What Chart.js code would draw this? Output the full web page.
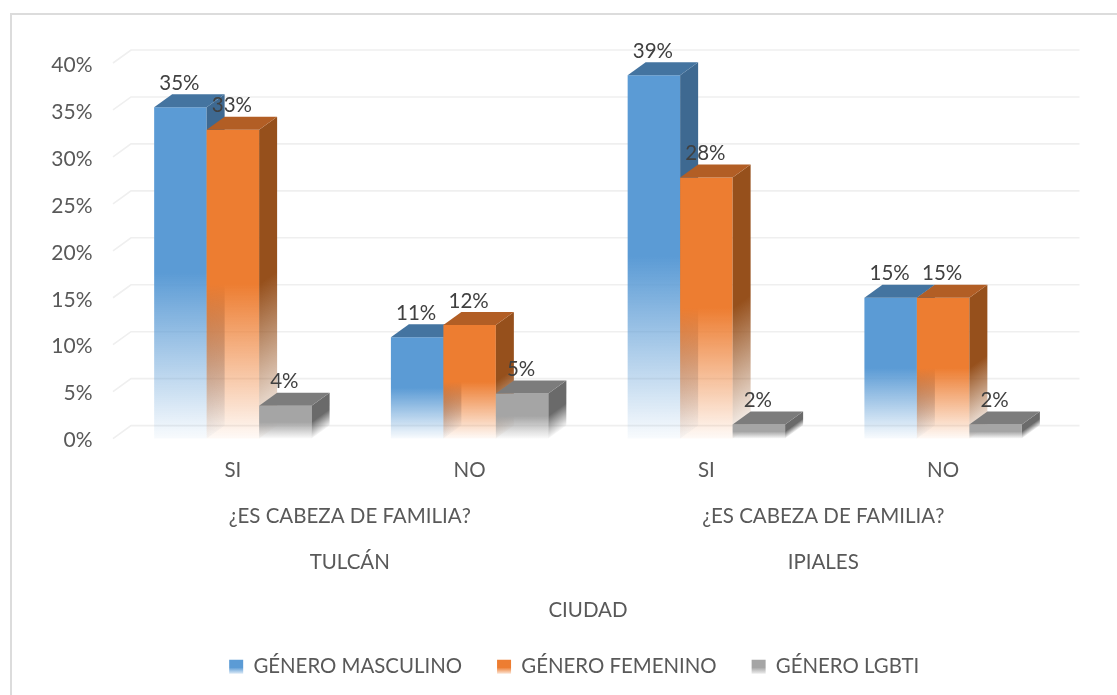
<!DOCTYPE html>
<html>
<head>
<meta charset="utf-8">
<style>html,body{margin:0;padding:0;background:#fff}#w{width:1117px;height:695px;position:relative}</style>
<script src="https://cdn.jsdelivr.net/npm/chart.js@4"></script>
</head>
<body>
<div id="w"><canvas id="c" width="1117" height="695"></canvas></div>
<script>
const categories = ['SI', 'NO', 'SI', 'NO'];
const questionLabels = ['¿ES CABEZA DE FAMILIA?', '¿ES CABEZA DE FAMILIA?'];
const cityLabels = ['TULCÁN', 'IPIALES'];
const axisTitle = 'CIUDAD';
const seriesNames = ['GÉNERO MASCULINO', 'GÉNERO FEMENINO', 'GÉNERO LGBTI'];
const masculino = [35.3, 10.8, 38.7, 15];
const femenino = [32.9, 12.1, 27.8, 15];
const lgbti = [3.5, 4.8, 1.5, 1.5];
const frontColors = ['rgb(91,155,213)', 'rgb(237,125,49)', 'rgb(165,165,165)'];
const topColors = ['rgb(68,116,160)', 'rgb(178,94,37)', 'rgb(124,124,124)'];
const sideColors = ['rgb(62,105,145)', 'rgb(150,80,28)', 'rgb(106,106,106)'];
const FONT = 'Lato';
const DX = 18, DY = -13;

function fade(ctx, y0, y1, color) {
  const g = ctx.createLinearGradient(0, y0, 0, y1);
  g.addColorStop(0, color);
  g.addColorStop(0.5, color);
  g.addColorStop(1, color.replace('rgb(', 'rgba(').replace(')', ',0.04)'));
  return g;
}
const frontFill = c => {
  const s = c.chart.scales.y;
  if (!s || c.raw === undefined) return frontColors[c.datasetIndex];
  return fade(c.chart.ctx, s.getPixelForValue(c.raw), s.getPixelForValue(0), frontColors[c.datasetIndex]);
};

const depthPlugin = {
  id: 'depth',
  afterLayout(chart) {
    chart.legend.left += 43.5;
    chart.legend.right += 43.5;
  },
  beforeDraw(chart) {
    const { ctx, scales: { y }, chartArea: a } = chart;
    ctx.save();
    ctx.strokeStyle = '#dcdcdc'; ctx.lineWidth = 2;
    ctx.beginPath(); ctx.moveTo(1117, 14); ctx.lineTo(11, 14); ctx.lineTo(11, 695); ctx.stroke();
    ctx.strokeStyle = '#efefef'; ctx.lineWidth = 1.6;
    y.ticks.forEach(t => {
      const p = y.getPixelForValue(t.value);
      ctx.beginPath();
      ctx.moveTo(a.left - 1.5, p); ctx.lineTo(a.left - 1.5 + DX, p + DY); ctx.lineTo(a.right + DX, p + DY);
      ctx.stroke();
    });
    ctx.restore();
  },
  beforeDatasetDraw() { return false; },
  afterDatasetsDraw(chart) {
    const { ctx, scales: { x, y } } = chart;
    ctx.save();
    chart.data.datasets.forEach((d, i) => {
      chart.getDatasetMeta(i).data.forEach(el => {
        el.draw(ctx);
        const l = el.x - el.width / 2, r = el.x + el.width / 2, t = el.y, b = el.base;
        ctx.save();
        ctx.transform(1, DY / DX, 0, 1, r, 0);
        ctx.fillStyle = fade(ctx, t, b, sideColors[i]);
        ctx.fillRect(0, t, DX, b - t);
        ctx.restore();
        ctx.fillStyle = topColors[i];
        ctx.beginPath();
        ctx.moveTo(l, t); ctx.lineTo(r, t); ctx.lineTo(r + DX, t + DY); ctx.lineTo(l + DX, t + DY);
        ctx.closePath(); ctx.fill();
      });
    });
    ctx.fillStyle = '#404040';
    ctx.font = '20.5px ' + FONT;
    ctx.textAlign = 'center'; ctx.textBaseline = 'middle';
    chart.data.datasets.forEach((d, i) => {
      chart.getDatasetMeta(i).data.forEach((el, k) => {
        ctx.fillText(Math.round(d.data[k]) + '%', el.x - 1, el.y - 24);
      });
    });
    ctx.fillStyle = '#595959';
    [0, 1].forEach(n => {
      const cx = (x.getPixelForTick(n * 2) + x.getPixelForTick(n * 2 + 1)) / 2 - 1.5;
      ctx.fillText(questionLabels[n], cx, 516);
      ctx.fillText(cityLabels[n], cx, 562);
    });
    ctx.restore();
  }
};

new Chart(document.getElementById('c'), {
  type: 'bar',
  data: {
    labels: categories,
    datasets: [masculino, femenino, lgbti].map((v, i) => ({
      label: seriesNames[i], data: v, backgroundColor: frontFill, borderWidth: 0,
      categoryPercentage: 0.665, barPercentage: 1
    }))
  },
  options: {
    responsive: false,
    animation: false,
    layout: { padding: { top: 63, right: 55.5, bottom: 8, left: 0 } },
    scales: {
      y: {
        min: 0, max: 40,
        afterFit(s) { s.width = 114.5; },
        grid: { display: false }, border: { display: false },
        ticks: { stepSize: 5, padding: 14, labelOffset: 2, color: '#595959', font: { family: FONT, size: 21 }, callback: v => v + '%' }
      },
      x: {
        afterFit(s) { s.height = 183; },
        grid: { display: false }, border: { display: false },
        ticks: { padding: 11, color: '#595959', font: { family: FONT, size: 20.5 }, maxRotation: 0 },
        title: { display: true, text: axisTitle, color: '#595959', font: { family: FONT, size: 20.5 }, padding: { top: 0, bottom: -1 } }
      }
    },
    plugins: {
      tooltip: { enabled: false },
      legend: {
        position: 'bottom',
        labels: {
          boxWidth: 14, boxHeight: 14, padding: 35, color: '#595959', font: { family: FONT, size: 20.4 },
          generateLabels(chart) {
            return chart.data.datasets.map((d, i) => ({
              text: d.label, datasetIndex: i, lineWidth: 0, strokeStyle: 'rgba(0,0,0,0)',
              fontColor: '#595959',
              fillStyle: fade(chart.ctx, 660, 675, frontColors[i])
            }));
          }
        }
      }
    }
  },
  plugins: [depthPlugin]
});
</script>
</body>
</html>
